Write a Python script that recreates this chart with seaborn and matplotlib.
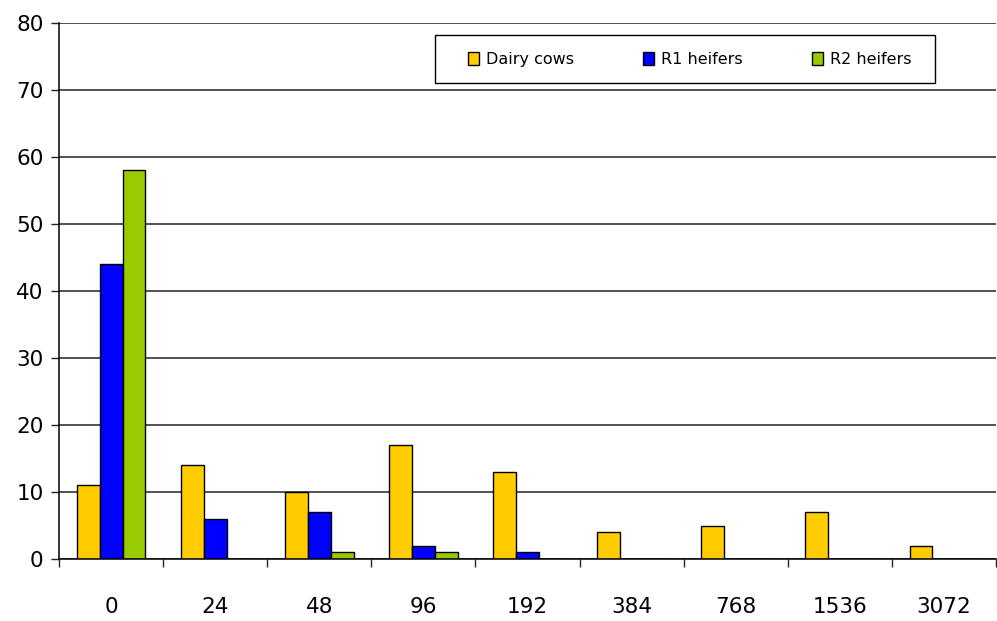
import numpy as np
import pandas as pd
import matplotlib
matplotlib.use("Agg")
import matplotlib.pyplot as plt
from matplotlib.patches import Rectangle
import seaborn as sns

# Antibody titre classes and percentage of animals in each class
titres = ["0", "24", "48", "96", "192", "384", "768", "1536", "3072"]
dairy_cows = [11, 14, 10, 17, 13, 4, 5, 7, 2]
r1_heifers = [44, 6, 7, 2, 1, 0, 0, 0, 0]
r2_heifers = [58, 0, 1, 1, 0, 0, 0, 0, 0]
groups = ["Dairy cows", "R1 heifers", "R2 heifers"]
colors = ["#FFCC00", "#0000FF", "#99CC00"]

df = pd.DataFrame({
    "titre": titres * 3,
    "pct": dairy_cows + r1_heifers + r2_heifers,
    "group": [g for g in groups for _ in titres],
})

sns.set_style("white")
plt.rcParams["font.family"] = ["DejaVu Sans"]
plt.rcParams["text.color"] = "black"
plt.rcParams["xtick.color"] = "black"
plt.rcParams["ytick.color"] = "black"

fig = plt.figure(figsize=(9.97, 6.21), dpi=100)
ax = fig.add_axes([0.0592, 0.0998, 0.9398, 0.8632])

sns.barplot(data=df, x="titre", y="pct", hue="group", order=titres,
            hue_order=groups, palette=colors, width=0.66, gap=0,
            edgecolor="black", linewidth=1.0, saturation=1, ax=ax,
            errorbar=None)

ax.set_ylim(0, 80)
ax.set_xlim(-0.5, len(titres) - 0.5)
ax.set_yticks(np.arange(0, 81, 10))
ax.yaxis.grid(True, color="#222222", linewidth=1.1)
ax.set_axisbelow(True)
ax.set_xlabel("")
ax.set_ylabel("")

for side in ("top", "right"):
    ax.spines[side].set_visible(False)
for side in ("left", "bottom"):
    ax.spines[side].set_color("black")
    ax.spines[side].set_linewidth(1.1)

ax.tick_params(axis="y", direction="out", length=6, width=1, color="#222222",
               labelsize=15.5, pad=5, left=True)
ax.tick_params(axis="x", which="major", length=0, labelsize=15.5, pad=27)
ax.set_xticks(np.arange(-0.5, len(titres), 1.0), minor=True)
ax.tick_params(axis="x", which="minor", direction="out", length=6, width=1,
               color="#222222", bottom=True)

# Legend entries without their own frame; a plain box is drawn around them
leg = ax.legend(loc="center left", bbox_to_anchor=(0.4365, 0.932),
                ncol=3, frameon=False, fontsize=11.5, handlelength=0.7,
                handleheight=0.85, handletextpad=0.45, columnspacing=4.3,
                borderpad=0, borderaxespad=0)
ax.add_patch(Rectangle((0.401, 0.888), 0.5336, 0.0896, transform=ax.transAxes,
                       facecolor="white", edgecolor="black", linewidth=1.0,
                       zorder=4))
leg.set_zorder(5)

fig.savefig("out.png", dpi=100)
